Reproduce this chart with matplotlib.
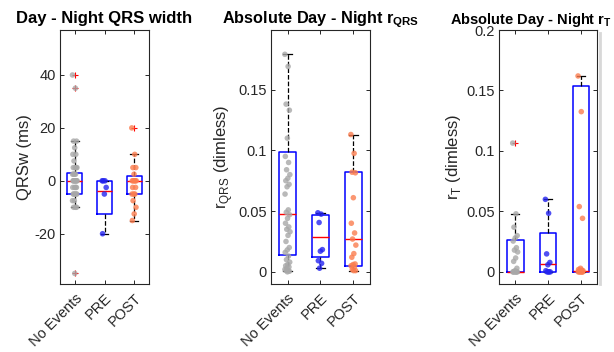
import numpy as np
import matplotlib
matplotlib.use("Agg")
import matplotlib.pyplot as plt
from matplotlib.lines import Line2D

plt.rcParams['font.family'] = ['Liberation Sans', 'DejaVu Sans']
plt.rcParams['mathtext.fontset'] = 'custom'
plt.rcParams['mathtext.rm'] = 'Liberation Sans'
plt.rcParams['mathtext.bf'] = 'Liberation Sans:bold'

# ------------------------
# data
# ------------------------
groups = ["No Events", "PRE", "POST"]

# panel 1: day - night QRS width (ms)
qrsw_pts = [
    [40, 35, 15, 15, 12.5, 10, 10, 7.5, 5, 5, 5, 5, 2.5, 2.5, 2.5, 2.5,
     0, 0, 0, 0, 0, 0, 0, 0, -2.5, -2.5, -2.5, -2.5, -5, -5, -5, -5, -5,
     -7.5, -7.5, -10, -10, -10, -35],
    [0, 0, 0, -2.5, -5, -20],
    [20, 10, 5, 5, 2.5, 0, 0, 0, 0, 0, -2.5, -2.5, -5, -5, -5, -7.5, -10,
     -12.5, -15],
]
qrsw_med = [0, -3.9, 0]
qrsw_q1 = [-5, -12.5, -5]
qrsw_q3 = [3, 0, 1.7]
qrsw_wlo = [-10, -20, -15]
qrsw_whi = [15, 0, 10]
qrsw_out = [[40, 35, -35], [], [20]]

# panel 2: absolute day - night rQRS
rqrs_pts = [
    [0.179, 0.169, 0.138, 0.133, 0.110, 0.095, 0.090, 0.084, 0.080, 0.077,
     0.075, 0.072, 0.070, 0.064, 0.051, 0.049, 0.047, 0.044, 0.040, 0.037,
     0.035, 0.033, 0.030, 0.025, 0.020, 0.018, 0.016, 0.013, 0.010, 0.008,
     0.006, 0.005, 0.004, 0.003, 0.002, 0.001, 0.001, 0.0005, 0.0],
    [0.0486, 0.0475, 0.0406, 0.0183, 0.017, 0.0092, 0.007, 0.003],
    [0.113, 0.0975, 0.082, 0.0815, 0.061, 0.040, 0.032, 0.027, 0.022,
     0.015, 0.012, 0.0065, 0.006, 0.005, 0.004, 0.002, 0.001, 0.001],
]
rqrs_med = [0.048, 0.029, 0.027]
rqrs_q1 = [0.014, 0.012, 0.0045]
rqrs_q3 = [0.099, 0.0467, 0.082]
rqrs_wlo = [0.0005, 0.003, 0.0005]
rqrs_whi = [0.179, 0.0486, 0.113]
rqrs_out = [[], [], []]

# panel 3: absolute day - night rT
rt_pts = [
    [0.1065, 0.048, 0.037, 0.030, 0.028, 0.0255, 0.020, 0.018, 0.0165,
     0.0115, 0.0087, 0.003, 0.001, 0, 0, 0, 0, 0, 0, 0],
    [0.060, 0.0485, 0.0149, 0.0078, 0.0059, 0.001, 0, 0, 0, 0],
    [0.162, 0.1325, 0.054, 0.0443, 0.003, 0.002, 0.0015, 0.001, 0.001,
     0.0005, 0.0005, 0, 0, 0, 0, 0, 0],
]
rt_med = [0, 0.0065, 0.001]
rt_q1 = [0, 0, 0]
rt_q3 = [0.026, 0.032, 0.154]
rt_wlo = [0, 0, 0]
rt_whi = [0.048, 0.060, 0.162]
rt_out = [[0.1065], [], []]

dot_colors = ["#a8a8a8", "#2424f0", "#fb7d4f"]


def jitter(n, spread=0.08):
    # fixed golden-ratio spread so dots don't sit on top of each other
    k = np.arange(n)
    return ((k * 0.618) % 1.0 * 2 - 1) * spread


def draw_panel(ax, pts, med, q1, q3, wlo, whi, out, ylim, yticks, yticklabels,
               ylabel):
    stats = []
    for i in range(3):
        stats.append(dict(med=med[i], q1=q1[i], q3=q3[i],
                          whislo=wlo[i], whishi=whi[i], fliers=[]))
    ax.bxp(stats, positions=[1, 2, 3], widths=0.5, capwidths=0.25,
           showfliers=False,
           boxprops=dict(color="blue", linewidth=1.1),
           medianprops=dict(color="red", linewidth=1.0),
           whiskerprops=dict(color="black", linestyle="--", linewidth=0.9),
           capprops=dict(color="black", linewidth=0.9))
    for i in range(3):
        if out[i]:
            ax.plot([i + 1] * len(out[i]), out[i], "+", color="red",
                    markersize=4, markeredgewidth=0.8, zorder=3)
        y = np.array(pts[i])
        x = i + 1 + jitter(len(y))
        ax.scatter(x, y, s=16, color=dot_colors[i], alpha=0.8,
                   edgecolors="none", zorder=4)
    ax.set_xlim(0.5, 3.5)
    ax.set_ylim(*ylim)
    ax.set_yticks(yticks)
    ax.set_yticklabels(yticklabels)
    ax.set_xticks([1, 2, 3])
    ax.set_xticklabels(groups, rotation=45, ha="right", rotation_mode="anchor")
    ax.tick_params(direction="in", top=True, right=True, length=3,
                   width=0.7, labelsize=10.5, colors="#262626", pad=3)
    ax.tick_params(axis="x", pad=5)
    for s in ax.spines.values():
        s.set_color("#262626")
        s.set_linewidth(0.8)
    ax.set_ylabel(ylabel, fontsize=12, color="#262626", labelpad=2)


fig = plt.figure(figsize=(6.14, 3.52), dpi=100)
ax1 = fig.add_axes([60 / 614, 1 - 284 / 352, 89 / 614, 254 / 352])
ax2 = fig.add_axes([271 / 614, 1 - 284 / 352, 99 / 614, 254 / 352])
ax3 = fig.add_axes([499 / 614, 1 - 284 / 352, 98 / 614, 254 / 352])

draw_panel(ax1, qrsw_pts, qrsw_med, qrsw_q1, qrsw_q3, qrsw_wlo, qrsw_whi,
           qrsw_out, (-39, 57), [-20, 0, 20, 40], ["-20", "0", "20", "40"],
           "QRSw (ms)")
ax1.set_title("Day - Night QRS width", fontsize=12, fontweight="bold", pad=5)

draw_panel(ax2, rqrs_pts, rqrs_med, rqrs_q1, rqrs_q3, rqrs_wlo, rqrs_whi,
           rqrs_out, (-0.01, 0.199), [0, 0.05, 0.1, 0.15],
           ["0", "0.05", "0.1", "0.15"],
           r"r$_{\mathrm{QRS}}$ (dimless)")
ax2.set_title(r"Absolute Day - Night r$_{\mathbf{QRS}}$", fontsize=11.7,
              fontweight="bold", pad=5)

draw_panel(ax3, rt_pts, rt_med, rt_q1, rt_q3, rt_wlo, rt_whi,
           rt_out, (-0.01, 0.2), [0, 0.05, 0.1, 0.15, 0.2],
           ["0", "0.05", "0.1", "0.15", "0.2"],
           r"r$_{\mathrm{T}}$ (dimless)")
ax3.set_title(r"Absolute Day - Night r$_{\mathbf{T}}$", fontsize=10.5,
              fontweight="bold", pad=4, loc="left", x=-0.5)

# faint strip at the right edge of the original export
fig.add_artist(Line2D([600 / 614, 600 / 614], [1 - 284 / 352, 1 - 33 / 352],
                      color="#d8d8d8", linewidth=2))

fig.savefig("out.png", dpi=100)
